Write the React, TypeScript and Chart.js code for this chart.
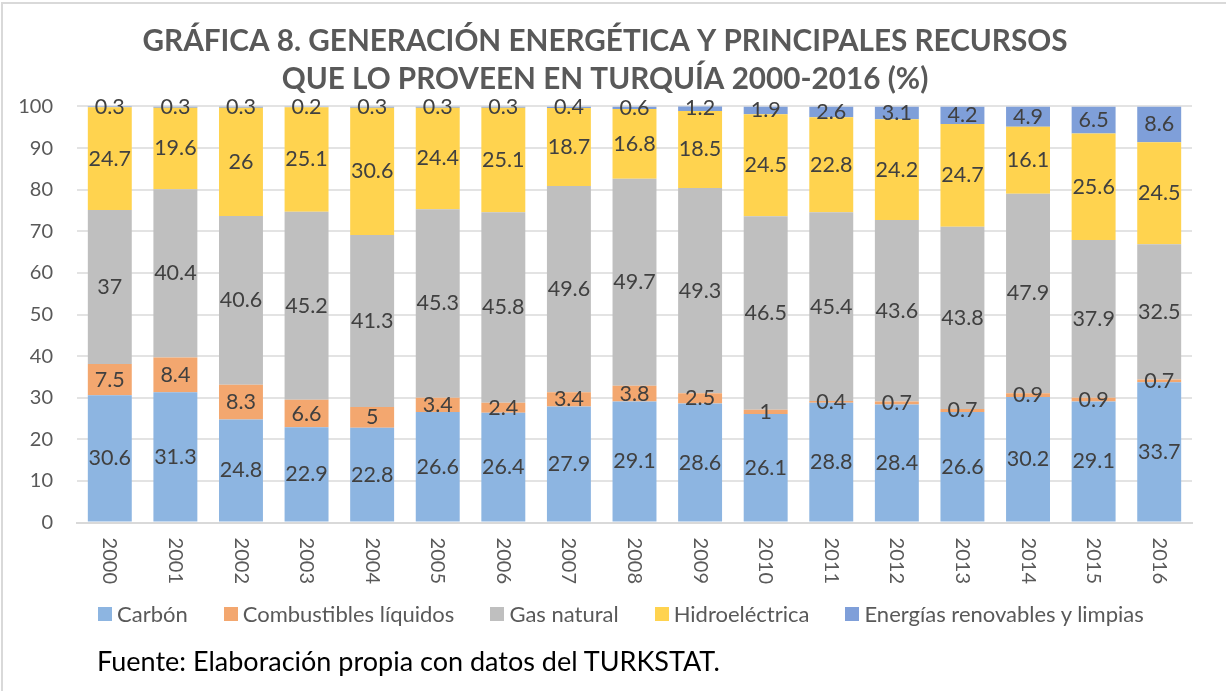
import React, { useEffect, useRef } from "react";
import { Chart, registerables } from "chart.js";

Chart.register(...registerables);

const years = ["2000", "2001", "2002", "2003", "2004", "2005", "2006", "2007", "2008", "2009", "2010", "2011", "2012", "2013", "2014", "2015", "2016"];
const carbon = [30.6, 31.3, 24.8, 22.9, 22.8, 26.6, 26.4, 27.9, 29.1, 28.6, 26.1, 28.8, 28.4, 26.6, 30.2, 29.1, 33.7];
const liquidos = [7.5, 8.4, 8.3, 6.6, 5, 3.4, 2.4, 3.4, 3.8, 2.5, 1, 0.4, 0.7, 0.7, 0.9, 0.9, 0.7];
const gasNatural = [37, 40.4, 40.6, 45.2, 41.3, 45.3, 45.8, 49.6, 49.7, 49.3, 46.5, 45.4, 43.6, 43.8, 47.9, 37.9, 32.5];
const hidro = [24.7, 19.6, 26, 25.1, 30.6, 24.4, 25.1, 18.7, 16.8, 18.5, 24.5, 22.8, 24.2, 24.7, 16.1, 25.6, 24.5];
const renovables = [0.3, 0.3, 0.3, 0.2, 0.3, 0.3, 0.3, 0.4, 0.6, 1.2, 1.9, 2.6, 3.1, 4.2, 4.9, 6.5, 8.6];
const yTicks = [0, 10, 20, 30, 40, 50, 60, 70, 80, 90, 100];

const seriesNames = ["Carbón", "Combustibles líquidos", "Gas natural", "Hidroeléctrica", "Energías renovables y limpias"];
const seriesColors = ["#8DB5E1", "#F3A76F", "#BFBFBF", "#FFD34F", "#7F9FD9"];
const titleLines = ["GRÁFICA 8. GENERACIÓN ENERGÉTICA Y PRINCIPALES RECURSOS", "QUE LO PROVEEN EN TURQUÍA 2000-2016 (%)"];
const footerText = "Fuente: Elaboración propia con datos del TURKSTAT.";

const FONT = "Lato, 'Open Sans', sans-serif";

const labelsPlugin = {
  id: "customLabels",
  afterDatasetsDraw(chart: any) {
    const ctx = chart.ctx;
    ctx.save();
    ctx.font = `21.5px ${FONT}`;
    ctx.fillStyle = "#404040";
    ctx.textAlign = "center";
    ctx.textBaseline = "middle";
    chart.data.datasets.forEach((ds: any, di: number) => {
      const meta = chart.getDatasetMeta(di);
      meta.data.forEach((el: any, i: number) => {
        const v = ds.data[i];
        const y = (el.y + el.base) / 2;
        ctx.fillText(String(v), el.x, y);
      });
    });
    const xs = chart.scales.x;
    ctx.font = `20px ${FONT}`;
    ctx.fillStyle = "#595959";
    ctx.textAlign = "left";
    ctx.textBaseline = "middle";
    years.forEach((yr, i) => {
      const px = xs.getPixelForValue(i);
      ctx.save();
      ctx.translate(px, xs.top + 15);
      ctx.rotate(Math.PI / 2);
      ctx.fillText(yr, 0, 0);
      ctx.restore();
    });
    ctx.restore();
  },
};

export default function App() {
  const ref = useRef<HTMLCanvasElement>(null);
  useEffect(() => {
    document.body.style.margin = "0";
    const data = [carbon, liquidos, gasNatural, hidro, renovables];
    const chart = new Chart(ref.current!, {
      type: "bar",
      data: {
        labels: years,
        datasets: data.map((d, i) => ({
          label: seriesNames[i],
          data: d,
          backgroundColor: seriesColors[i],
          borderWidth: 0,
          barPercentage: 0.67,
          categoryPercentage: 1,
        })),
      },
      options: {
        responsive: false,
        animation: false,
        layout: { padding: { left: 18, right: 34, top: 0, bottom: 114 } },
        plugins: {
          tooltip: { enabled: false },
          title: {
            display: true,
            text: titleLines,
            color: "#595959",
            font: { family: FONT, size: 29.7, weight: "bold", lineHeight: 1.27 },
            padding: { top: 23, bottom: 8 },
          },
          legend: { display: false },
        },
        scales: {
          x: {
            stacked: true,
            grid: { display: false },
            border: { color: "#D9D9D9", width: 2 },
            ticks: {
              color: "rgba(0,0,0,0)",
              minRotation: 90,
              maxRotation: 90,
              font: { family: FONT, size: 20 },
              padding: 0,
            },
          },
          y: {
            stacked: true,
            min: 0,
            max: 100,
            afterBuildTicks: (axis: any) => {
              axis.ticks = yTicks.map((v) => ({ value: v }));
            },
            afterFit: (axis: any) => {
              axis.width = 59;
            },
            grid: { color: "#E3E3E3", lineWidth: 2, drawTicks: false },
            border: { display: false },
            ticks: {
              color: "#595959",
              font: { family: FONT, size: 20 },
              padding: 24,
            },
          },
        },
      },
      plugins: [labelsPlugin],
    });
    return () => chart.destroy();
  }, []);

  return (
    <div style={{ position: "absolute", left: 0, top: 0, width: 1226, height: 691, overflow: "hidden", background: "#fff" }}>
      <div style={{ position: "absolute", left: 1, top: 2, width: 3000, height: 3000, borderTop: "2px solid #D9D9D9", borderLeft: "2px solid #D9D9D9" }} />
      <canvas ref={ref} width={1226} height={691} style={{ position: "absolute", left: 0, top: 0 }} />
      <div style={{ position: "absolute", left: 98, top: 599, display: "flex", alignItems: "center", fontFamily: FONT, fontSize: 22, lineHeight: "30px", color: "#595959", whiteSpace: "nowrap" }}>
        {seriesNames.map((n, i) => (
          <div key={n} style={{ display: "flex", alignItems: "center", marginRight: i < seriesNames.length - 1 ? 36 : 0 }}>
            <span style={{ display: "inline-block", width: 14, height: 14, background: seriesColors[i], marginRight: 5 }} />
            <span>{n}</span>
          </div>
        ))}
      </div>
      <div style={{ position: "absolute", left: 97, top: 643, fontFamily: FONT, fontSize: 27, lineHeight: "36px", color: "#000", whiteSpace: "nowrap" }}>{footerText}</div>
    </div>
  );
}
